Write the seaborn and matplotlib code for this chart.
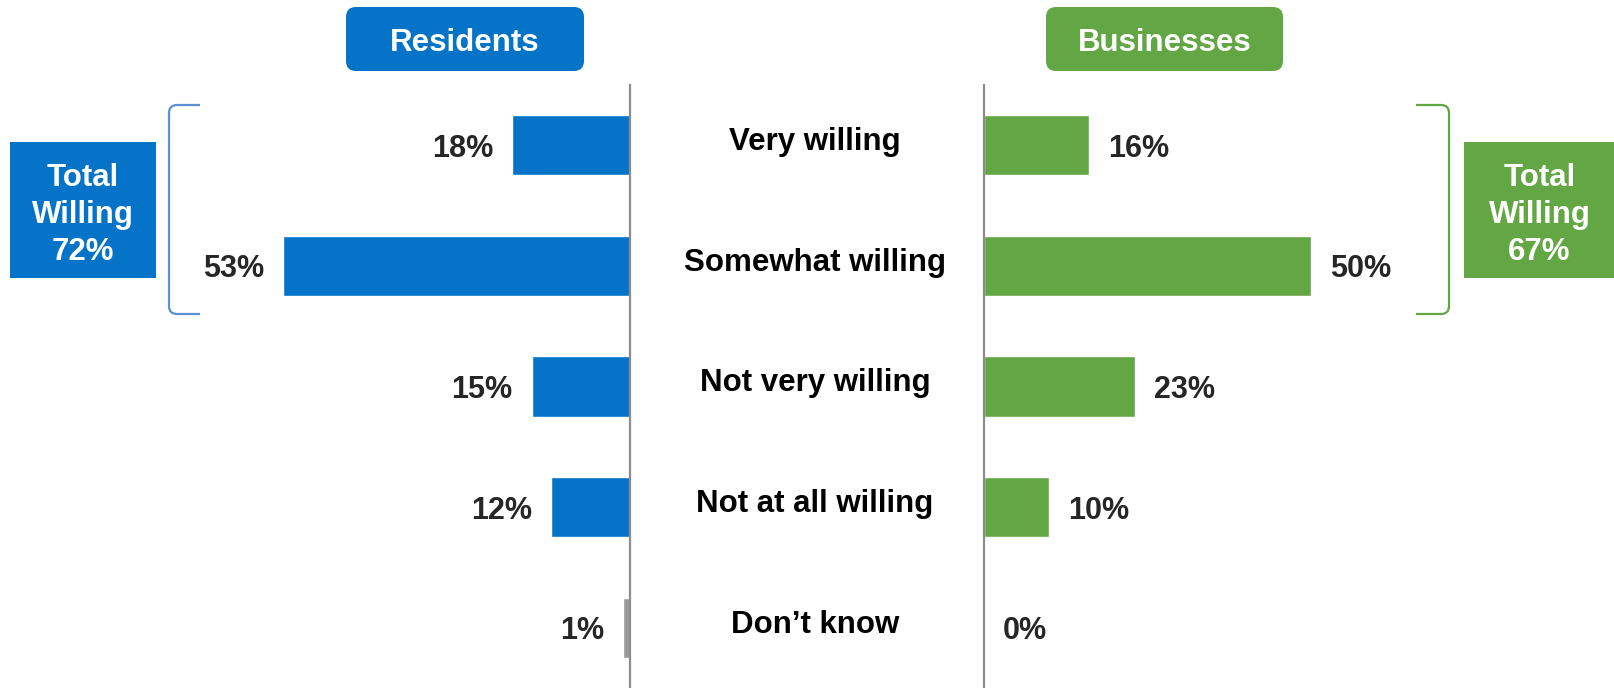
import matplotlib
matplotlib.use("Agg")
import matplotlib.pyplot as plt
import seaborn as sns
from matplotlib.patches import FancyBboxPatch, Rectangle, PathPatch
from matplotlib.path import Path
from matplotlib.transforms import blended_transform_factory
from matplotlib import font_manager

# ---- data -------------------------------------------------------------
categories = ["Very willing", "Somewhat willing", "Not very willing",
              "Not at all willing", "Don\u2019t know"]
residents = [18, 53, 15, 12, 1]
businesses = [16, 50, 23, 10, 0]
residents_total = 72
businesses_total = 67
group_titles = ["Residents", "Businesses"]

# ---- style ------------------------------------------------------------
BLUE = "#0473C8"
GREEN = "#63A744"
GREY_BAR = "#9A9A9A"
AXIS_GREY = "#8C8C8C"
LABEL_GREY = "#262626"
BRACKET_BLUE = "#5B90D4"

sns.set_theme(style="white")
available = {f.name for f in font_manager.fontManager.ttflist}
family = [f for f in ["Liberation Sans Narrow", "Liberation Sans", "DejaVu Sans"]
          if f in available]
plt.rcParams["font.family"] = family

W, H = 1615, 688
fig = plt.figure(figsize=(W / 100, H / 100), dpi=100)

PX_PER_PCT = 6.55
axis_left_px = 630
axis_right_px = 984
axis_top_px = 85

top_frac = (H - axis_top_px) / H
axL = fig.add_axes([0, 0, axis_left_px / W, top_frac])
axR = fig.add_axes([axis_right_px / W, 0, (W - axis_right_px) / W, top_frac])

# overlay in pixel coordinates for headers, boxes and brackets
ov = fig.add_axes([0, 0, 1, 1], zorder=-1)
ov.set_xlim(0, W)
ov.set_ylim(H, 0)
ov.axis("off")

res_palette = [BLUE] * (len(categories) - 1) + [GREY_BAR]
bus_palette = [GREEN] * len(categories)

sns.barplot(x=residents, y=categories, hue=categories, palette=res_palette,
            orient="h", width=0.5, legend=False, ax=axL, saturation=1)
sns.barplot(x=businesses, y=categories, hue=categories, palette=bus_palette,
            orient="h", width=0.5, legend=False, ax=axR, saturation=1)

axL.set_xlim(axis_left_px / PX_PER_PCT, 0)
axR.set_xlim(0, (W - axis_right_px) / PX_PER_PCT)
for ax in (axL, axR):
    ax.set_ylim(len(categories) - 0.5, -0.5)
    ax.set_xlabel("")
    ax.set_ylabel("")
    ax.set_xticks([])
    ax.set_yticks([])
    ax.patch.set_alpha(0)
    for s in ax.spines.values():
        s.set_visible(False)
axL.spines["right"].set_visible(True)
axL.spines["right"].set_color(AXIS_GREY)
axL.spines["right"].set_linewidth(1.6)
axR.spines["left"].set_visible(True)
axR.spines["left"].set_color(AXIS_GREY)
axR.spines["left"].set_linewidth(1.6)

FS = 22
for i, v in enumerate(residents):
    axL.annotate(f"{v}%", (v, i), xytext=(-19, 0), textcoords="offset pixels",
                 ha="right", va="center_baseline", fontsize=FS,
                 fontweight="bold", color=LABEL_GREY)
for i, v in enumerate(businesses):
    axR.annotate(f"{v}%", (v, i), xytext=(19, 0), textcoords="offset pixels",
                 ha="left", va="center_baseline", fontsize=FS,
                 fontweight="bold", color=LABEL_GREY)

# category labels between the two panels
tr = blended_transform_factory(ov.transData, axL.transData)
for i, c in enumerate(categories):
    ov.text(815, i - 0.025, c, transform=tr, ha="center", va="center",
            fontsize=22.5, fontweight="bold", color="black")

# group headers
for (x0, x1), title, col in [((346, 584), group_titles[0], BLUE),
                             ((1046, 1283), group_titles[1], GREEN)]:
    ov.add_patch(FancyBboxPatch((x0 + 10, 7 + 10), x1 - x0 - 20, 64 - 20,
                                boxstyle="round,pad=10", fc=col, ec="none"))
    ov.text((x0 + x1) / 2, 43, title, ha="center", va="center",
            fontsize=22.5, fontweight="bold", color="white")

# total willing boxes
for (x0, x1), total, col in [((10, 156), residents_total, BLUE),
                             ((1464, 1615), businesses_total, GREEN)]:
    ov.add_patch(Rectangle((x0, 142), x1 - x0, 136, fc=col, ec="none"))
    ov.text((x0 + x1) / 2, 215, f"Total\nWilling\n{total}%", ha="center",
            va="center", fontsize=22.5, fontweight="bold", color="white",
            linespacing=1.32)


def bracket(xv, xarm, y0, y1, r, color):
    d = 1 if xarm > xv else -1
    verts = [(xarm, y0), (xv + d * r, y0), (xv, y0), (xv, y0 + r),
             (xv, y1 - r), (xv, y1), (xv + d * r, y1), (xarm, y1)]
    codes = [Path.MOVETO, Path.LINETO, Path.CURVE3, Path.CURVE3,
             Path.LINETO, Path.CURVE3, Path.CURVE3, Path.LINETO]
    ov.add_patch(PathPatch(Path(verts, codes), fc="none", ec=color, lw=1.6))


bracket(169, 200, 105, 314, 8, BRACKET_BLUE)
bracket(1449, 1416, 105, 314, 8, GREEN)

fig.savefig("out.png", dpi=100)
